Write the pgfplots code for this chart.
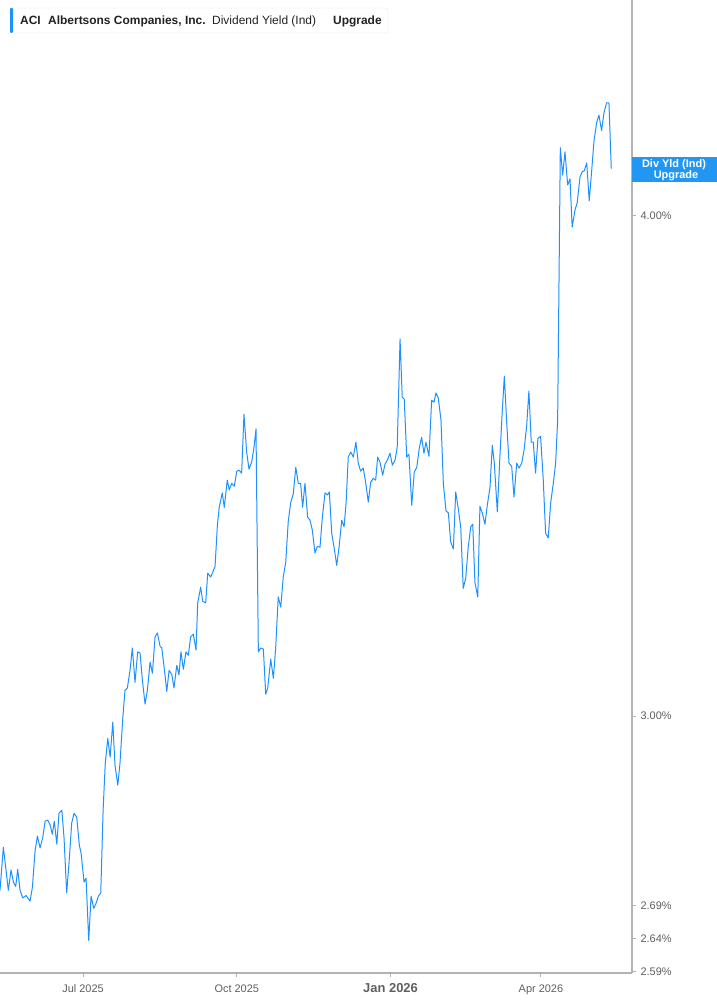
\documentclass[border=0pt]{standalone}
\usepackage{fontspec}
\setmainfont{Liberation Sans}
\usepackage{pgfplots}
\pgfplotsset{compat=1.18}
\usepackage{pgfplotstable}
\definecolor{serieblue}{RGB}{30,144,255}
\definecolor{boxblue}{RGB}{33,150,243}
\definecolor{axgray}{RGB}{178,178,178}
\definecolor{lblgray}{RGB}{95,95,95}
\definecolor{txtdark}{RGB}{34,34,34}

\pgfplotstableread{
day yld
-49.7 2.714
-47.7 2.782
-44.7 2.714
-43.1 2.746
-41.7 2.727
-40.3 2.720
-39.1 2.747
-37.7 2.714
-36.1 2.702
-34.1 2.706
-31.7 2.697
-30.3 2.719
-28.7 2.777
-27.3 2.800
-25.7 2.781
-24.1 2.798
-22.7 2.824
-21.1 2.826
-19.7 2.818
-18.4 2.803
-17.2 2.824
-15.7 2.787
-14.4 2.837
-12.7 2.842
-11.4 2.798
-9.8 2.710
-8.4 2.757
-6.8 2.821
-5.4 2.837
-3.8 2.831
-2.2 2.785
-1.2 2.773
0.6 2.727
1.8 2.733
3.4 2.637
4.8 2.705
6.4 2.686
7.8 2.694
9.2 2.705
10.6 2.710
12.0 2.842
13.3 2.920
14.8 2.962
16.2 2.930
17.8 2.990
19.1 2.917
20.8 2.883
22.1 2.920
23.8 2.998
25.1 3.045
26.5 3.049
28.1 3.080
29.5 3.120
31.1 3.059
32.7 3.113
34.1 3.111
35.5 3.063
37.1 3.021
38.5 3.045
40.1 3.095
41.5 3.075
43.1 3.140
44.5 3.147
46.1 3.123
47.1 3.120
48.5 3.086
50.1 3.043
51.5 3.080
53.1 3.073
54.4 3.049
56.1 3.089
57.4 3.072
58.6 3.113
60.0 3.082
61.6 3.113
63.0 3.107
64.4 3.140
66.0 3.145
67.6 3.116
68.6 3.202
70.4 3.231
71.6 3.205
73.4 3.202
74.6 3.257
76.4 3.250
77.6 3.259
79.0 3.270
80.4 3.349
81.5 3.383
83.3 3.411
84.5 3.383
86.3 3.436
87.5 3.417
89.0 3.430
90.5 3.424
92.0 3.454
93.3 3.456
94.9 3.450
96.3 3.569
97.9 3.492
99.3 3.458
100.9 3.472
102.3 3.502
103.5 3.539
104.9 3.113
106.3 3.120
107.9 3.118
109.3 3.038
110.5 3.049
112.3 3.100
113.9 3.066
115.3 3.122
116.8 3.213
118.3 3.194
119.8 3.250
121.3 3.278
122.8 3.356
124.3 3.393
125.8 3.409
127.3 3.462
128.8 3.430
130.2 3.430
131.4 3.383
132.8 3.430
134.4 3.364
135.8 3.358
137.2 3.339
138.8 3.295
140.2 3.308
141.8 3.306
143.2 3.364
144.8 3.411
146.2 3.407
147.4 3.413
148.8 3.333
150.2 3.306
151.8 3.272
153.2 3.306
154.8 3.358
156.2 3.345
157.4 3.391
158.7 3.482
160.2 3.492
161.7 3.482
163.3 3.512
164.7 3.470
166.1 3.454
167.7 3.460
169.1 3.432
170.7 3.393
172.1 3.432
173.7 3.440
175.1 3.436
176.3 3.482
177.7 3.472
179.3 3.446
180.7 3.468
182.1 3.476
183.7 3.490
185.1 3.466
186.7 3.476
188.0 3.502
189.7 3.727
191.0 3.604
192.2 3.600
193.7 3.482
195.0 3.488
196.7 3.387
198.2 3.452
199.7 3.462
201.2 3.500
202.6 3.522
204.0 3.490
205.2 3.512
207.0 3.484
208.6 3.598
210.0 3.594
211.2 3.613
212.6 3.602
214.2 3.557
215.6 3.430
217.2 3.376
218.6 3.372
220.0 3.316
221.6 3.303
223.0 3.413
224.5 3.381
226.0 3.345
227.5 3.229
229.0 3.248
230.5 3.306
232.0 3.345
233.2 3.350
234.5 3.240
236.2 3.213
237.5 3.385
238.9 3.372
240.5 3.350
241.9 3.387
243.5 3.421
244.9 3.506
246.1 3.470
247.9 3.374
249.5 3.486
250.9 3.578
252.1 3.648
253.5 3.553
254.9 3.470
256.5 3.464
257.9 3.403
259.5 3.470
260.9 3.460
262.5 3.470
263.9 3.496
265.5 3.547
266.8 3.617
268.2 3.512
269.4 3.512
270.8 3.450
272.2 3.520
273.8 3.524
275.4 3.436
276.8 3.333
278.4 3.324
279.8 3.391
281.4 3.430
282.8 3.470
284.0 3.557
285.6 4.160
287.0 4.095
288.4 4.150
290.0 4.072
291.4 4.086
292.7 3.975
294.4 4.014
295.7 4.030
297.4 4.091
298.7 4.103
299.9 4.105
301.4 4.124
302.9 4.035
304.4 4.107
305.7 4.174
307.3 4.220
308.7 4.239
310.3 4.201
311.7 4.244
313.3 4.269
314.7 4.269
316.1 4.110
}\yielddata

\begin{document}
\begin{tikzpicture}
\useasboundingbox (0bp,0bp) rectangle (717bp,1005bp);
\begin{axis}[
  at={(0bp,32bp)}, anchor=south west,
  scale only axis, width=632bp, height=973bp,
  ymode=log, ymin=2.588, ymax=4.529,
  xmin=-49.7, xmax=328.5,
  axis x line*=bottom, axis y line*=right,
  axis line style={draw=axgray, line width=1.5bp},
  tick align=outside,
  major tick length=4bp,
  tick style={draw=axgray, line width=1bp},
  xtick={0,92,184,274},
  xticklabels={Jul 2025, Oct 2025, {\fontsize{13}{13}\selectfont\bfseries Jan 2026}, Apr 2026},
  xticklabel style={font=\fontsize{11}{11}\selectfont, text=lblgray, anchor=base, yshift=-16bp},
  ytick={2.59,2.64,2.69,3,4},
  yticklabels={2.59\%,2.64\%,2.69\%,3.00\%,4.00\%},
  yticklabel pos=right,
  yticklabel style={font=\fontsize{11}{11}\selectfont, text=lblgray, anchor=west, xshift=1bp},
  minor tick num=0,
  grid=none,
]
\addplot[color=serieblue, line width=1bp, mark=none, line join=round] table[x=day, y=yld] {\yielddata};
\end{axis}
% legend box
\draw[draw=black!10, fill=white, rounded corners=2bp] (10bp,972bp) rectangle (388bp,997bp);
\fill[serieblue, rounded corners=1bp] (10bp,972bp) rectangle (13bp,997bp);
\node[anchor=base west, inner sep=0pt, text=txtdark, font=\fontsize{12}{12}\selectfont\bfseries] at (20bp,980bp) {ACI};
\node[anchor=base west, inner sep=0pt, text=txtdark, font=\fontsize{12}{12}\selectfont\bfseries] at (48bp,980bp) {Albertsons Companies, Inc.};
\node[anchor=base west, inner sep=0pt, text=txtdark, font=\fontsize{12}{12}\selectfont] at (212bp,980bp) {Dividend Yield (Ind)};
\node[anchor=base west, inner sep=0pt, text=txtdark, font=\fontsize{12}{12}\selectfont\bfseries] at (333bp,980bp) {Upgrade};
% current value box
\fill[boxblue] (632bp,823bp) rectangle (717bp,848bp);
\node[anchor=base, inner sep=0pt, text=white, font=\fontsize{11}{11}\selectfont\bfseries] at (674bp,837bp) {Div Yld (Ind)};
\node[anchor=base, inner sep=0pt, text=white, font=\fontsize{11}{11}\selectfont\bfseries] at (676bp,826bp) {Upgrade};
\end{tikzpicture}
\end{document}
